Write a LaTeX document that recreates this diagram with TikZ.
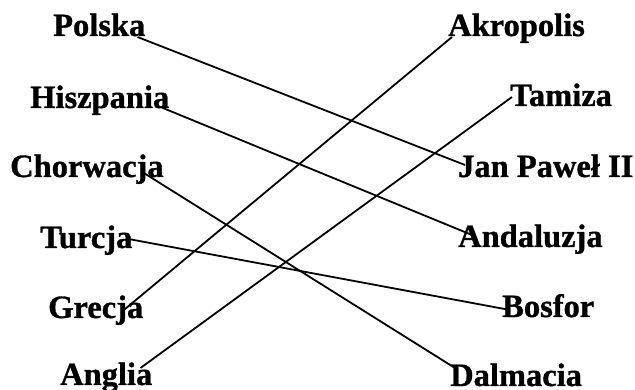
\documentclass[tikz,border=0pt]{standalone}
\usepackage{fontspec}
\setmainfont{Liberation Serif}[BoldFeatures={FakeBold=1}]
\usetikzlibrary{calc}

\begin{document}
\begin{tikzpicture}[x=1pt,y=1pt, word/.style={anchor=base west, inner sep=0, font=\fontsize{32.5}{33}\selectfont\bfseries}]
\useasboundingbox (0,0) rectangle (635,390);
\foreach \n/\t/\x/\y in {polska/Polska/53/354, hiszpania/Hiszpania/30/282, chorwacja/Chorwacja/10/213, turcja/Turcja/40/142, grecja/Grecja/48/72, anglia/Anglia/60/5} {
\node[word] (\n) at (\x,\y) {\t};
}
\foreach \n/\t/\x/\y in {akropolis/Akropolis/448/354, tamiza/Tamiza/510/284, jan/Jan Paweł II/458/213, andaluzja/Andaluzja/458/143, bosfor/Bosfor/502/73, dalmacia/Dalmacia/450/4} {
\node[word] (\n) at (\x,\y) {\t};
}
\draw[line width=1.8pt] ([shift={(-8,-1)}]polska.base east)--([shift={(7,12)}]jan.base west);
\draw[line width=1.8pt] ([shift={(-9,1)}]hiszpania.base east)--([shift={(14,12)}]andaluzja.base west);
\draw[line width=1.8pt] ([shift={(-20,4)}]chorwacja.base east)--([shift={(5,18)}]dalmacia.base west);
\draw[line width=1.8pt] ([shift={(-4,9)}]turcja.base east)--([shift={(8,7)}]bosfor.base west);
\draw[line width=1.8pt] ([shift={(-22,6)}]grecja.base east)--([shift={(4,-1)}]akropolis.base west);
\draw[line width=1.8pt] ([shift={(-12,17)}]anglia.base east)--([shift={(2,9)}]tamiza.base west);
\end{tikzpicture}
\end{document}
